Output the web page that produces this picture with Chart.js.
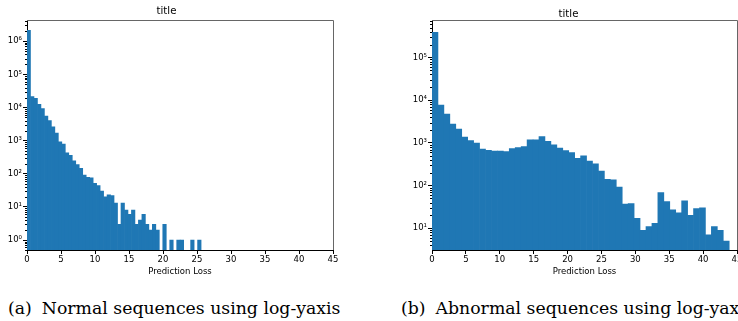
<!DOCTYPE html>
<html>
<head>
<meta charset="utf-8">
<script src="https://cdn.jsdelivr.net/npm/chart.js@4/dist/chart.umd.min.js"></script>
<style>
  html, body { margin: 0; padding: 0; background: #fff; }
  body { position: relative; width: 738px; height: 321px; overflow: hidden; }
  .plot { position: absolute; top: 0; }
  .cap { position: absolute; top: 298px; font-family: "DejaVu Serif"; font-size: 17.3px; line-height: 20px; white-space: nowrap; color: #000; }
  .cap span { margin-right: 10px; }
</style>
</head>
<body>
<canvas id="normalChart" class="plot" width="360" height="285" style="left:0px"></canvas>
<canvas id="abnormalChart" class="plot" width="360" height="285" style="left:400px"></canvas>
<div class="cap" style="left:8px"><span>(a)</span>Normal sequences using log-yaxis</div>
<div class="cap" style="left:401px"><span>(b)</span>Abnormal sequences using log-yaxis</div>
<script>
// histogram counts per bin (50 bins each)
const normalBinWidth = 0.512;
const normalCounts = [
  2140000, 21500, 19000, 12500, 9300, 5500, 4050, 2600, 1680, 920,
  780, 430, 360, 245, 190, 145, 91, 78, 76, 51,
  44, 30, 20, 23, 22, 13, 3, 13, 8, 6,
  8, 3, 4, 6, 3, 2, 3, 2, 0, 3,
  0, 1, 0, 1, 1, 0, 0, 1, 0, 1
];

const abnormalBinWidth = 0.877;
const abnormalCounts = [
  388000, 7700, 4750, 2750, 2100, 1360, 1140, 985, 715, 670,
  645, 640, 625, 735, 775, 820, 1180, 1180, 1400, 1090,
  900, 760, 665, 590, 435, 495, 375, 322, 220, 140,
  136, 92, 37, 38, 17, 9, 11, 13, 69, 42,
  27, 23, 44, 20, 29, 30, 7, 11, 9, 5
];

const xTicks = [0, 5, 10, 15, 20, 25, 30, 35, 40, 45];
const titleText = "title";
const xLabel = "Prediction Loss";

const supDigits = { "0": "⁰", "1": "¹", "2": "²", "3": "³", "4": "⁴", "5": "⁵", "6": "⁶", "7": "⁷", "8": "⁸", "9": "⁹", "-": "⁻" };
function powLabel(v) {
  const e = String(Math.round(Math.log10(v)));
  return "10" + e.split("").map(c => supDigits[c]).join("");
}

const fontFamily = "'DejaVu Sans', sans-serif";

// minor log ticks + top/right spines
const axesExtras = {
  id: "axesExtras",
  afterDraw(chart) {
    const ctx = chart.ctx;
    const y = chart.scales.y;
    const a = chart.chartArea;
    ctx.save();
    ctx.strokeStyle = "#000";
    ctx.lineWidth = 1;
    ctx.beginPath();
    const e0 = Math.floor(Math.log10(y.min));
    const e1 = Math.ceil(Math.log10(y.max));
    for (let e = e0; e <= e1; e++) {
      for (let m = 2; m <= 9; m++) {
        const v = m * Math.pow(10, e);
        if (v < y.min || v > y.max) continue;
        const py = Math.round(y.getPixelForValue(v)) + 0.5;
        ctx.moveTo(a.left - 2, py);
        ctx.lineTo(a.left, py);
      }
    }
    ctx.stroke();
    ctx.strokeStyle = "#666";
    ctx.beginPath();
    ctx.moveTo(Math.round(a.left), Math.round(a.top) + 0.5);
    ctx.lineTo(Math.round(a.right) + 0.5, Math.round(a.top) + 0.5);
    ctx.lineTo(Math.round(a.right) + 0.5, Math.round(a.bottom));
    ctx.stroke();
    ctx.restore();
  }
};

function drawHist(canvasId, counts, binWidth, yMin, yMax, yWidth, padRight, titlePad) {
  const points = counts.map((c, i) => ({ x: (i + 0.5) * binWidth, y: c > 0 ? c : null }));
  return new Chart(document.getElementById(canvasId), {
    type: "bar",
    data: {
      datasets: [{
        data: points,
        backgroundColor: "#1f77b4",
        borderWidth: 0,
        barPercentage: 1,
        categoryPercentage: 1
      }]
    },
    options: {
      responsive: false,
      animation: false,
      layout: { autoPadding: false, padding: { left: 0, right: padRight, top: 0, bottom: 0 } },
      plugins: {
        legend: { display: false },
        tooltip: { enabled: false },
        title: {
          display: true,
          text: titleText,
          color: "#000",
          font: { family: fontFamily, size: 10.2, weight: "normal" },
          padding: titlePad
        }
      },
      scales: {
        x: {
          type: "linear",
          min: 0,
          max: 45,
          offset: false,
          afterBuildTicks: sc => { sc.ticks = xTicks.map(v => ({ value: v })); },
          afterFit: sc => { sc.height = 35; },
          ticks: { color: "#000", font: { family: fontFamily, size: 8.5 }, padding: 1, maxRotation: 0, autoSkip: false },
          grid: { offset: false, drawOnChartArea: false, tickLength: 4, tickColor: "#000" },
          border: { color: "#000", width: 1 },
          title: {
            display: true,
            text: xLabel,
            color: "#000",
            font: { family: fontFamily, size: 8.5 },
            padding: { top: 0, bottom: 8 }
          }
        },
        y: {
          type: "logarithmic",
          min: yMin,
          max: yMax,
          afterBuildTicks: sc => {
            const t = [];
            for (let e = Math.ceil(Math.log10(sc.min)); Math.pow(10, e) <= sc.max; e++) t.push({ value: Math.pow(10, e) });
            sc.ticks = t;
          },
          afterFit: sc => { sc.width = yWidth; },
          ticks: { color: "#000", font: { family: fontFamily, size: 8.5 }, padding: 1, autoSkip: false, callback: v => powLabel(v) },
          grid: { drawOnChartArea: false, tickLength: 4, tickColor: "#000" },
          border: { color: "#000", width: 1 }
        }
      }
    },
    plugins: [axesExtras]
  });
}

drawHist("normalChart", normalCounts, normalBinWidth, 0.5, 4.3e6, 27, 27, { top: 5, bottom: 3 });
drawHist("abnormalChart", abnormalCounts, abnormalBinWidth, 3.1, 7.46e5, 32, 23, { top: 8, bottom: 0 });
</script>
</body>
</html>
